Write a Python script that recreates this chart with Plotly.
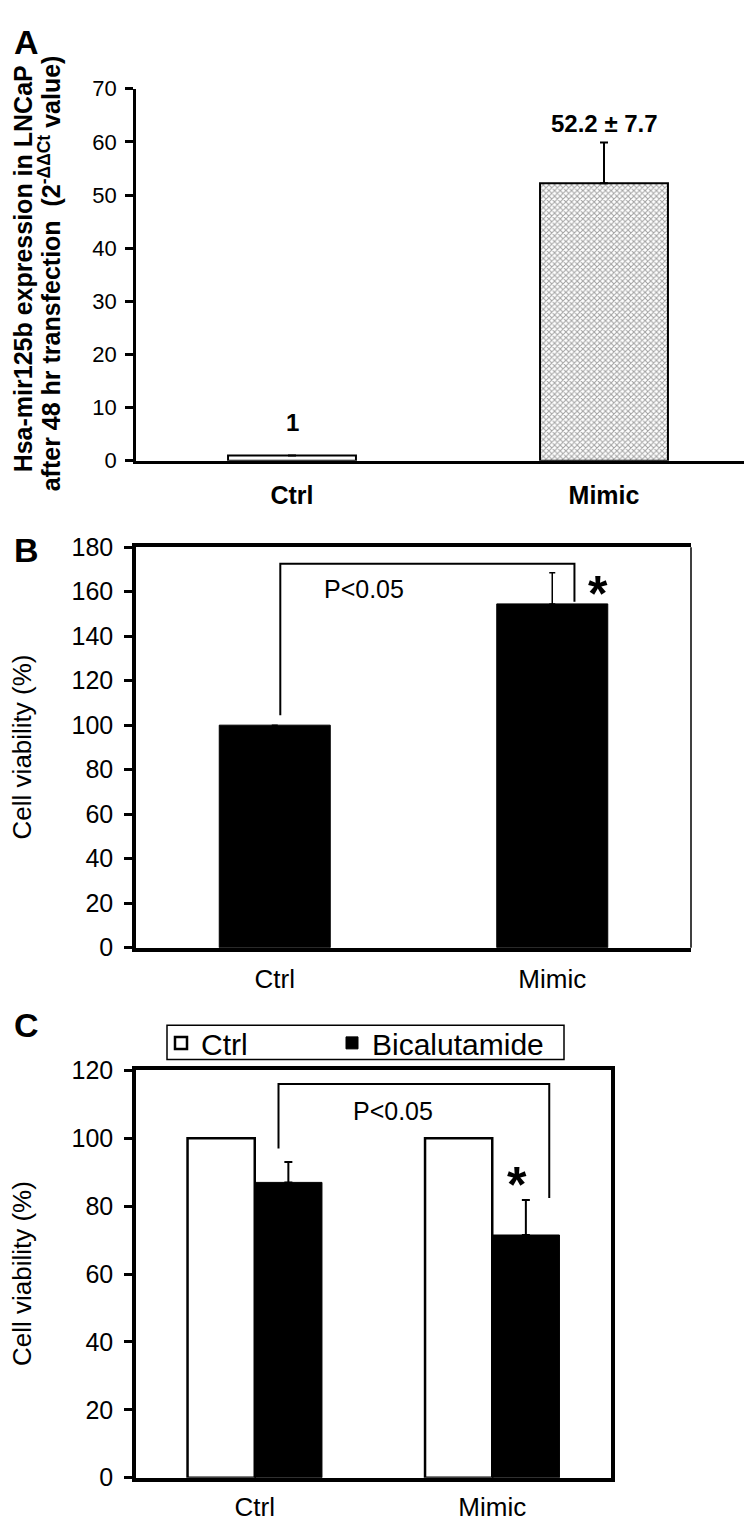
import plotly.graph_objects as go

W, H = 752, 1523

# ---------------- data ----------------
cats = ["Ctrl", "Mimic"]

# Panel A: hsa-mir125b expression (2^-ddCt)
a_vals = [1, 52.2]
a_err = [0, 7.7]

# Panel B: cell viability (%)
b_vals = [100, 154.5]
b_err = [0, 14.0]
b_bracket = {"left": 0.02, "right": 1.08, "top": 172.5, "left_bottom": 104.5, "right_bottom": 155.5}

# Panel C: cell viability (%) with bicalutamide
c_series = ["Ctrl", "Bicalutamide"]
c_ctrl = [100, 100]
c_bical = [87, 71.5]
c_bical_err = [6, 10.3]
c_bracket = {"left": 0.10, "right": 1.24, "top": 116, "left_bottom": 97, "right_bottom": 82.4}

xs = list(range(len(cats)))

SANS = "Liberation Sans, Arial, sans-serif"

fig = go.Figure()

# ---------------- Panel A ----------------
fig.add_trace(go.Bar(
    x=xs, y=a_vals, width=0.41,
    marker=dict(color=["white", "white"], line=dict(color="black", width=2),
                pattern=dict(shape=["", "x"], fgcolor="black", bgcolor="white", size=4, solidity=0.45)),
    error_y=dict(type="data", array=[None, a_err[1]], arrayminus=[0, 0], symmetric=False,
                 visible=True, color="black", thickness=2, width=4),
    xaxis="x", yaxis="y", showlegend=False))

# ---------------- Panel B ----------------
fig.add_trace(go.Bar(
    x=xs, y=b_vals, width=0.40,
    marker=dict(color="black", line=dict(color="black", width=1)),
    error_y=dict(type="data", array=[None, b_err[1]], arrayminus=[0, 0], symmetric=False,
                 visible=True, color="black", thickness=1.5, width=3),
    xaxis="x2", yaxis="y2", showlegend=False))
fig.add_trace(go.Scatter(
    x=[b_bracket["left"], b_bracket["left"], b_bracket["right"], b_bracket["right"]],
    y=[b_bracket["left_bottom"], b_bracket["top"], b_bracket["top"], b_bracket["right_bottom"]],
    mode="lines", line=dict(color="black", width=2), xaxis="x2", yaxis="y2",
    showlegend=False, hoverinfo="skip"))

# ---------------- Panel C ----------------
fig.add_trace(go.Bar(
    x=xs, y=c_ctrl, width=0.283, offset=-0.283, name=c_series[0],
    marker=dict(color="white", line=dict(color="black", width=2.5)),
    xaxis="x3", yaxis="y3", legend="legend"))
fig.add_trace(go.Bar(
    x=xs, y=c_bical, width=0.283, offset=0, name=c_series[1],
    marker=dict(color="black", line=dict(color="black", width=1)),
    error_y=dict(type="data", array=c_bical_err, arrayminus=[0, 0], symmetric=False,
                 visible=True, color="black", thickness=2, width=4),
    xaxis="x3", yaxis="y3", legend="legend2"))
fig.add_trace(go.Scatter(
    x=[c_bracket["left"], c_bracket["left"], c_bracket["right"], c_bracket["right"]],
    y=[c_bracket["left_bottom"], c_bracket["top"], c_bracket["top"], c_bracket["right_bottom"]],
    mode="lines", line=dict(color="black", width=2), xaxis="x3", yaxis="y3",
    showlegend=False, hoverinfo="skip"))


def ydom(top_px, bot_px):
    return [1 - bot_px / H, 1 - top_px / H]


x0 = 128 / W
axis_common = dict(showgrid=False, zeroline=False, linecolor="black")
leg_common = dict(orientation="h", yanchor="middle", xanchor="left", borderwidth=0,
                  bgcolor="rgba(0,0,0,0)", font=dict(family=SANS, size=30, color="black"))

fig.update_layout(
    width=W, height=H, margin=dict(l=0, r=0, t=0, b=0),
    paper_bgcolor="white", plot_bgcolor="white", barmode="overlay",
    font=dict(family=SANS, color="black"),
    # Panel A axes
    xaxis=dict(domain=[x0, 1.0], range=[-0.5, 1.5], tickvals=xs, ticktext=cats,
               showline=True, linewidth=2.5, ticks="", ticklabelstandoff=10,
               tickfont=dict(family=SANS, size=25, color="black", weight="bold"), **axis_common),
    yaxis=dict(domain=ydom(68, 447), range=[0, 70], dtick=10, ticks="outside", ticklen=8,
               tickwidth=2.5, tickcolor="black", showline=True, linewidth=2.5, ticklabelstandoff=4,
               tickfont=dict(family=SANS, size=22, color="black"), anchor="x", **axis_common),
    # Panel B axes
    xaxis2=dict(domain=[x0, 683 / W], range=[-0.5, 1.5], tickvals=xs, ticktext=cats,
                showline=True, linewidth=3.5, mirror=True, ticks="", ticklabelstandoff=5,
                tickfont=dict(family=SANS, size=26, color="black"), anchor="y2", **axis_common),
    yaxis2=dict(domain=ydom(535, 943), range=[0, 180], dtick=20, ticks="outside", ticklen=8,
                tickwidth=3, tickcolor="black", showline=True, linewidth=3.5, ticklabelstandoff=6,
                tickfont=dict(family=SANS, size=25, color="black"), anchor="x2", **axis_common),
    # Panel C axes
    xaxis3=dict(domain=[x0, 603 / W], range=[-0.5, 1.5], tickvals=xs, ticktext=cats,
                showline=True, linewidth=3.5, mirror=True, ticks="", ticklabelstandoff=3,
                tickfont=dict(family=SANS, size=26, color="black"), anchor="y3", **axis_common),
    yaxis3=dict(domain=ydom(1068, 1483), range=[0, 120], dtick=20, ticks="outside", ticklen=8,
                tickwidth=3, tickcolor="black", showline=True, linewidth=3.5, mirror=True,
                ticklabelstandoff=6,
                tickfont=dict(family=SANS, size=25, color="black"), anchor="x3", **axis_common),
    legend=dict(x=153 / W, y=1 - 1040 / H, **leg_common),
    legend2=dict(x=324 / W, y=1 - 1040 / H, **leg_common),
    showlegend=True,
)

# thin right border of panel B
fig.add_shape(type="line", xref="x2 domain", yref="y2 domain", x0=1, x1=1, y0=0, y1=1,
              line=dict(color="black", width=1.5))
# legend frame of panel C
fig.add_shape(type="rect", xref="paper", yref="paper", x0=159 / W, x1=556 / W,
              y0=1 - 1057 / H, y1=1 - 1022 / H, line=dict(color="black", width=1.5))

ann = []


def add_text(text, x, y, xref, yref, size, weight="normal", family=SANS, angle=0):
    ann.append(dict(text=text, x=x, y=y, xref=xref, yref=yref, showarrow=False,
                    xanchor="center", yanchor="middle", textangle=angle,
                    font=dict(family=family, size=size, color="black", weight=weight)))


# panel letters
add_text("A", 18 / W, 1 - 20 / H, "paper", "paper", 34, "bold")
add_text("B", 18 / W, 1 - 538 / H, "paper", "paper", 34, "bold")
add_text("C", 18 / W, 1 - 1022 / H, "paper", "paper", 34, "bold")

# Panel A y title (two lines)
add_text("Hsa-mir125b expression in LNCaP", 15 / W, 1 - 252 / H, "paper", "paper", 25, "bold", angle=-90)
add_text("after 48 hr transfection  (2<sup>-ΔΔCt</sup> value)", 42 / W, 1 - 256 / H, "paper", "paper", 25,
         "bold", angle=-90)
# Panel A value labels
add_text(f"{a_vals[0]:g}", xs[0], 7.2, "x", "y", 24, "bold")
add_text(f"{a_vals[1]:.1f} ± {a_err[1]:.1f}", xs[1], 63.4, "x", "y", 24, "bold")

# Panel B/C y titles
add_text("Cell viability (%)", 14 / W, 0.5, "paper", "y2 domain", 26, angle=-90)
add_text("Cell viability (%)", 14 / W, 0.5, "paper", "y3 domain", 26, angle=-90)

# Panel B significance
add_text("P<0.05", 0.32, 161, "x2", "y2", 25)
add_text("*", 1.165, 158.8, "x2", "y2", 50, "bold")
# Panel C significance
add_text("P<0.05", 0.58, 107.9, "x3", "y3", 25)
add_text("*", 1.105, 86.2, "x3", "y3", 50, "bold")

fig.update_layout(annotations=ann)

fig.write_html("out.html")
